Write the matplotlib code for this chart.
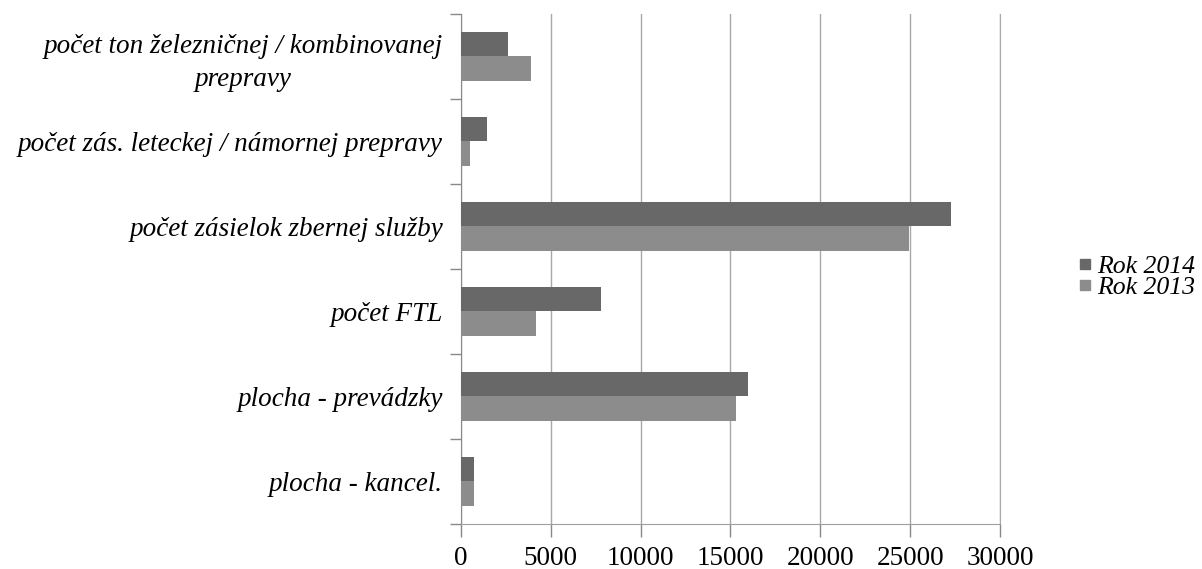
import matplotlib
matplotlib.use("Agg")
import matplotlib.pyplot as plt
from matplotlib.lines import Line2D
import numpy as np

# data (top to bottom as shown)
categories = [
    "počet ton železničnej / kombinovanej\nprepravy",
    "počet zás. leteckej / námornej prepravy",
    "počet zásielok zbernej služby",
    "počet FTL",
    "plocha - prevádzky",
    "plocha - kancel.",
]
rok_2014 = [2600, 1450, 27300, 7800, 16000, 700]
rok_2013 = [3900, 500, 24950, 4200, 15300, 700]
series_labels = ["Rok 2014", "Rok 2013"]
x_ticks = [0, 5000, 10000, 15000, 20000, 25000, 30000]

COL_2014 = "#686868"
COL_2013 = "#8c8c8c"
GRID = "#a8a8a8"
SERIF = ["Liberation Serif", "DejaVu Serif"]

fig = plt.figure(figsize=(12.02, 5.69), dpi=100)
ax = fig.add_axes([0.3835, 0.0791, 0.4484, 0.8963])

n = len(categories)
y = np.arange(n)[::-1]  # top category at highest y
h = 0.29

ax.barh(y + h / 2, rok_2014, height=h, color=COL_2014, zorder=3)
ax.barh(y - h / 2, rok_2013, height=h, color=COL_2013, zorder=3)

ax.set_xlim(0, 30000)
ax.set_ylim(-0.5, n - 0.5)
ax.set_xticks(x_ticks)
ax.set_xticklabels([str(t) for t in x_ticks], fontsize=19.5, family=SERIF)

# category labels at centres, tick marks at boundaries
ax.set_yticks(y)
ax.set_yticklabels(categories, fontsize=19.5, family=SERIF, style="italic",
                   multialignment="center", linespacing=1.4)
ax.tick_params(axis="y", which="major", length=0, pad=13)
ax.set_yticks(np.arange(n + 1) - 0.5, minor=True)
ax.tick_params(axis="y", which="minor", length=8, color="#888888", width=1)
ax.tick_params(axis="x", length=9, color="#888888", width=1, pad=7)

ax.grid(True, axis="x", color=GRID, linewidth=1, zorder=0)
ax.spines["top"].set_visible(False)
ax.spines["right"].set_color(GRID)
ax.spines["left"].set_color("#888888")
ax.spines["bottom"].set_color("#a0a0a0")

handles = [
    Line2D([], [], marker="s", linestyle="none", color=COL_2014, markersize=7),
    Line2D([], [], marker="s", linestyle="none", color=COL_2013, markersize=7),
]
fig.legend(handles, series_labels, loc="center left", bbox_to_anchor=(0.895, 0.513),
           frameon=False, prop={"family": SERIF, "style": "italic", "size": 18.5},
           handlelength=0.7, handletextpad=0.15, labelspacing=-0.1, borderaxespad=0,
           borderpad=0)

fig.savefig("out.png", dpi=100, facecolor="white")
